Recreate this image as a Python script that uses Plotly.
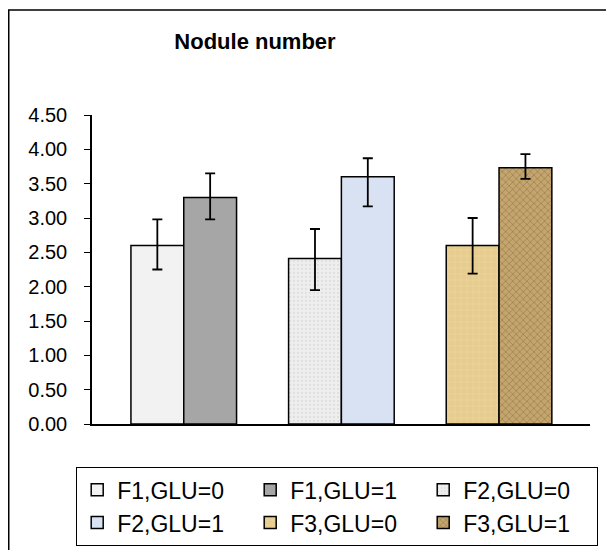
import plotly.graph_objects as go

categories = ["F1", "F2", "F3"]
series_names = ["F1,GLU=0", "F1,GLU=1", "F2,GLU=0", "F2,GLU=1", "F3,GLU=0", "F3,GLU=1"]
glu0_mean = [2.60, 2.41, 2.60]
glu0_plus = [0.38, 0.43, 0.40]
glu0_minus = [0.35, 0.46, 0.41]
glu1_mean = [3.30, 3.60, 3.73]
glu1_plus = [0.35, 0.27, 0.20]
glu1_minus = [0.32, 0.43, 0.16]
y_ticks = [0.0, 0.5, 1.0, 1.5, 2.0, 2.5, 3.0, 3.5, 4.0, 4.5]

styles = [
    dict(color="#F2F2F2"),
    dict(color="#A6A6A6"),
    dict(color="#EEEEEE", pattern=dict(shape=".", fgcolor="#CFCFCF", bgcolor="#EEEEEE", size=4, solidity=0.25)),
    dict(color="#D9E2F3"),
    dict(color="#E8CF95", pattern=dict(shape="+", fgcolor="#F3E0B0", bgcolor="#E6CC8E", size=6, solidity=0.2)),
    dict(color="#C2A26B", pattern=dict(shape="x", fgcolor="#80643A", bgcolor="#C4A56E", size=5, solidity=0.3)),
]

fig = go.Figure()
for i, cat in enumerate(categories):
    for g, (means, plus, minus) in enumerate([(glu0_mean, glu0_plus, glu0_minus),
                                               (glu1_mean, glu1_plus, glu1_minus)]):
        k = i * 2 + g
        fig.add_trace(go.Bar(
            x=[cat], y=[means[i]], name=series_names[k],
            offsetgroup=str(g),
            marker=dict(line=dict(color="black", width=1.5), **styles[k]),
            error_y=dict(type="data", symmetric=False, array=[plus[i]], arrayminus=[minus[i]],
                         color="black", thickness=1.8, width=5),
        ))

L, R, T, B = 84, 32, 107, 134
PW, PH = 614 - L - R, 550 - T - B

fig.update_layout(
    width=614, height=550,
    margin=dict(l=L, r=R, t=T, b=B, autoexpand=False),
    paper_bgcolor="white", plot_bgcolor="white",
    barmode="group", bargap=0.33, bargroupgap=0,
    font=dict(family="Liberation Sans, Arial, sans-serif", color="black"),
    title=dict(text="<b>Nodule number</b>", x=247 / 614, xanchor="center",
               y=1 - 33 / 550, yanchor="middle",
               font=dict(size=22, family="Liberation Sans, Arial, sans-serif", color="black")),
    showlegend=True,
    legend=dict(orientation="h", x=(68 - L) / PW, xanchor="left",
                y=-(459 - (T + PH)) / PH, yanchor="top",
                bordercolor="black", borderwidth=1.2, bgcolor="white",
                font=dict(size=23), entrywidth=128, entrywidthmode="pixels",
                traceorder="normal"),
    xaxis=dict(type="category", categoryorder="array", categoryarray=categories,
               range=[-0.582, 2.577], showline=True, linecolor="black", linewidth=1.5,
               showticklabels=False, ticks="", showgrid=False, zeroline=False, fixedrange=True),
    yaxis=dict(range=[0, 4.5], tickvals=y_ticks, tickformat=".2f", showline=True,
               linecolor="black", linewidth=1.5, ticks="outside", ticklen=6, tickwidth=1.2,
               tickcolor="black", showgrid=False, zeroline=False, tickfont=dict(size=20),
               ticklabelstandoff=13),
)

# chart outer border
fig.add_shape(type="rect", xref="paper", yref="paper", x0=(0.75 - L) / PW, x1=1.2,
              y0=(T + PH - 2) / PH, y1=-0.7, line=dict(color="black", width=1.5),
              fillcolor="rgba(0,0,0,0)", layer="below")
# end ticks on the category axis
for xd in (0, 1):
    fig.add_shape(type="line", xref="x domain", yref="y", ysizemode="pixel", yanchor=0,
                  x0=xd, x1=xd, y0=0, y1=-6, line=dict(color="black", width=1.2))

fig.write_html("out.html")
